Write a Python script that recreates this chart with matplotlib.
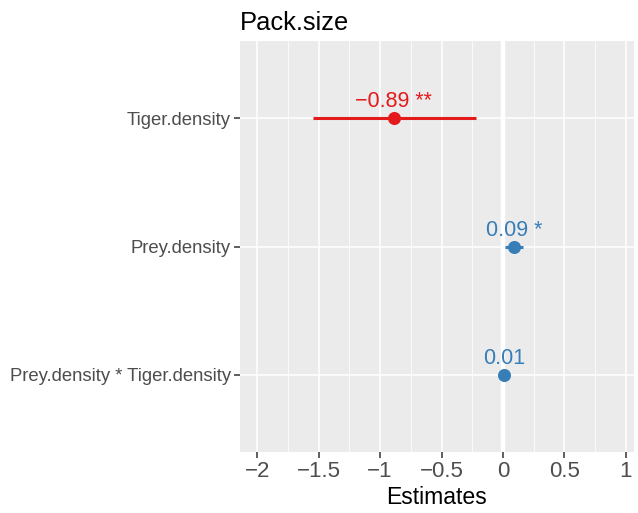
import matplotlib
matplotlib.use('Agg')
import matplotlib.pyplot as plt
from matplotlib.ticker import MultipleLocator

plt.rcParams['font.family'] = ['Liberation Sans', 'DejaVu Sans']

# model terms, top to bottom
terms = ['Tiger.density', 'Prey.density', 'Prey.density * Tiger.density']
estimates = [-0.89, 0.09, 0.01]
ci_low = [-1.55, 0.02, 0.00]
ci_high = [-0.22, 0.16, 0.02]
stars = ['**', '*', '']
x_ticks = [-2, -1.5, -1, -0.5, 0, 0.5, 1]
x_tick_labels = ['\u22122', '\u22121.5', '\u22121', '\u22120.5', '0', '0.5', '1']

red = '#e41a1c'
blue = '#377eb8'

fig = plt.figure(figsize=(6.38, 5.13), dpi=100)
ax = fig.add_axes([240 / 638, 1 - 452 / 513, 394 / 638, 411 / 513])
ax.set_facecolor('#EBEBEB')

ypos = list(range(len(terms), 0, -1))

ax.axvline(0, color='white', lw=3.2, zorder=1)

for i in range(len(terms)):
    col = red if estimates[i] < 0 else blue
    ax.plot([ci_low[i], ci_high[i]], [ypos[i], ypos[i]], color=col, lw=2.2,
            solid_capstyle='butt', zorder=3)
    ax.plot(estimates[i], ypos[i], 'o', color=col, ms=9.4, mew=0, zorder=4)
    lab = ('%.2f' % estimates[i]).replace('-', '\u2212')
    if stars[i]:
        lab = lab + ' ' + stars[i]
    ax.text(estimates[i], ypos[i] + 0.085, lab, color=col, fontsize=15.5,
            ha='center', va='baseline', zorder=5)

ax.set_xlim(-2.141, 1.067)
ax.set_ylim(0.4, 3.6)
ax.set_xticks(x_ticks)
ax.set_xticklabels(x_tick_labels)
ax.xaxis.set_minor_locator(MultipleLocator(0.25))
ax.set_yticks(ypos)
ax.set_yticklabels(terms)

ax.grid(which='major', color='white', lw=1.1, zorder=0)
ax.grid(which='minor', axis='x', color='white', lw=0.55, zorder=0)
ax.set_axisbelow(True)
for s in ax.spines.values():
    s.set_visible(False)

ax.tick_params(axis='x', which='major', length=4.2, width=1.1, color='#333333',
               labelsize=16, labelcolor='#4D4D4D', pad=2)
ax.tick_params(axis='y', which='major', length=4.5, width=1.1, color='#333333',
               labelsize=13.3, labelcolor='#4D4D4D', pad=2)
ax.tick_params(axis='x', which='minor', length=0)

ax.set_xlabel('Estimates', fontsize=16.6, color='black', labelpad=3)
ax.set_title('Pack.size', loc='left', fontsize=18.4, color='black', pad=8)

fig.savefig('out.png', dpi=100)
